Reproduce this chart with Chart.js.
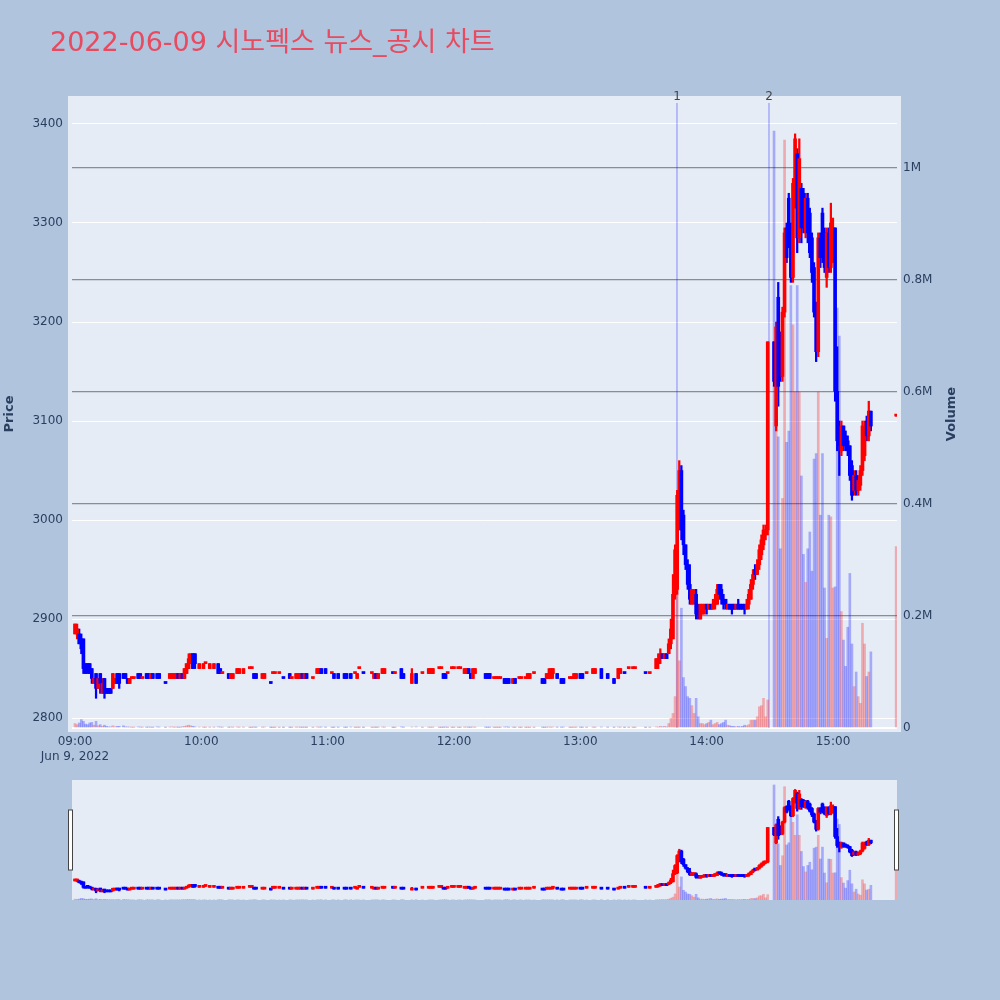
<!DOCTYPE html>
<html>
<head>
<meta charset="utf-8">
<script src="https://cdn.jsdelivr.net/npm/chart.js@4.4.1/dist/chart.umd.min.js"></script>
<style>
  html, body { margin: 0; padding: 0; background: #b0c4de; }
  #wrap { position: relative; width: 1000px; height: 1000px; }
  #main { position: absolute; left: 0; top: 0; }
  #mini { position: absolute; left: 0; top: 770px; }
</style>
</head>
<body>
<div id="wrap">
  <canvas id="main" width="1000" height="1000"></canvas>
  <canvas id="mini" width="1000" height="140"></canvas>
</div>
<script>
// minutes after 09:00 for each traded candle
var mins = [
  0,1,2,3,4,5,6,7,8,9,
  10,11,12,13,14,15,16,17,18,19,
  20,21,23,24,25,26,27,28,30,31,
  32,34,35,36,37,39,40,43,45,46,
  47,48,49,50,51,52,53,54,55,56,
  57,59,61,62,64,66,68,69,70,73,
  74,75,77,78,80,83,84,85,86,89,
  90,93,94,95,97,99,102,103,105,106,
  107,108,109,110,113,115,116,117,119,122,
  123,125,128,129,131,133,134,135,137,141,
  142,143,144,146,147,151,152,155,156,160,
  162,165,168,169,170,173,174,175,176,177,
  179,180,182,183,185,186,187,188,189,190,
  195,196,197,199,200,201,202,204,205,206,
  208,209,211,212,214,215,216,218,222,223,
  224,225,226,227,229,231,232,235,236,237,
  238,240,241,243,246,247,250,253,256,258,
  259,261,263,265,266,271,273,276,277,278,
  279,280,281,282,283,284,285,286,287,288,
  289,290,291,292,293,294,295,296,297,298,
  299,300,301,302,303,304,305,306,307,308,
  309,310,311,312,313,314,315,316,317,318,
  319,320,321,322,323,324,325,326,327,328,
  329,332,333,334,335,336,337,338,339,340,
  341,342,343,344,345,346,347,348,349,350,
  351,352,353,354,355,356,357,358,359,360,
  361,362,363,364,365,366,367,368,369,370,
  371,372,373,374,375,376,377,378,390
];
var opens = [
  2885,2885,2885,2880,2880,2855,2855,2855,2850,2835,
  2845,2830,2845,2825,2840,2830,2830,2830,2830,2835,
  2845,2845,2845,2845,2840,2835,2840,2840,2845,2845,
  2840,2845,2845,2840,2845,2845,2845,2835,2840,2840,
  2840,2840,2845,2840,2845,2840,2845,2850,2855,2865,
  2865,2850,2850,2855,2850,2850,2855,2850,2845,2845,
  2840,2840,2845,2845,2845,2850,2850,2845,2845,2840,
  2840,2835,2845,2845,2845,2840,2845,2840,2840,2840,
  2840,2845,2840,2845,2840,2845,2845,2850,2850,2845,
  2845,2845,2845,2845,2845,2845,2840,2850,2845,2845,
  2840,2845,2840,2845,2845,2845,2845,2850,2845,2835,
  2845,2845,2845,2845,2845,2850,2850,2845,2845,2845,
  2850,2850,2850,2850,2845,2845,2850,2845,2840,2845,
  2845,2845,2845,2840,2840,2840,2840,2840,2840,2840,
  2835,2840,2840,2840,2840,2840,2840,2845,2840,2840,
  2840,2840,2840,2845,2845,2840,2840,2840,2840,2840,
  2840,2845,2845,2845,2845,2845,2850,2845,2840,2840,
  2845,2845,2850,2850,2850,2845,2845,2850,2855,2860,
  2865,2860,2865,2865,2875,2880,2925,2930,3000,3050,
  3005,2975,2955,2935,2915,2920,2925,2910,2900,2905,
  2910,2915,2910,2915,2910,2915,2915,2935,2930,2920,
  2920,2910,2915,2915,2915,2910,2915,2915,2915,2915,
  2910,2915,2920,2935,2950,2945,2955,2965,2975,2985,
  2990,3180,3095,3225,3180,3145,3210,3295,3325,3295,
  3245,3320,3370,3285,3335,3330,3290,3325,3310,3285,
  3255,3215,3170,3285,3310,3290,3245,3290,3255,3265,
  3295,3130,3090,3070,3095,3085,3080,3075,3055,3030,
  3045,3030,3035,3050,3065,3100,3085,3110,3105
];
var highs = [
  2895,2895,2890,2885,2880,2855,2855,2855,2850,2840,
  2845,2840,2845,2840,2840,2830,2830,2830,2845,2840,
  2845,2845,2845,2845,2840,2840,2840,2840,2845,2845,
  2840,2845,2845,2845,2845,2845,2845,2835,2845,2845,
  2845,2845,2845,2845,2845,2850,2855,2865,2865,2865,
  2865,2855,2855,2855,2855,2855,2855,2850,2845,2845,
  2845,2845,2850,2850,2850,2850,2850,2845,2845,2845,
  2845,2835,2845,2845,2845,2840,2845,2840,2845,2845,
  2845,2845,2845,2845,2840,2850,2850,2850,2850,2845,
  2845,2845,2845,2845,2845,2845,2845,2850,2845,2845,
  2845,2845,2845,2850,2850,2845,2845,2850,2845,2850,
  2845,2845,2850,2850,2850,2850,2850,2845,2845,2845,
  2850,2850,2850,2850,2850,2850,2850,2845,2850,2850,
  2845,2845,2845,2840,2840,2840,2840,2840,2840,2840,
  2840,2840,2840,2840,2840,2845,2845,2845,2840,2840,
  2845,2850,2850,2850,2845,2840,2840,2840,2840,2845,
  2845,2845,2845,2845,2850,2850,2850,2845,2840,2850,
  2850,2845,2850,2850,2850,2845,2845,2860,2865,2870,
  2865,2865,2865,2880,2900,2945,2975,3030,3060,3055,
  3010,2975,2960,2955,2930,2930,2930,2915,2915,2915,
  2915,2915,2915,2915,2920,2925,2935,2935,2935,2925,
  2920,2915,2915,2915,2915,2915,2920,2915,2915,2915,
  2920,2930,2940,2950,2955,2960,2975,2985,2995,2995,
  3180,3180,3200,3240,3190,3215,3295,3300,3330,3300,
  3345,3390,3375,3385,3340,3335,3330,3330,3315,3290,
  3260,3220,3290,3290,3315,3295,3295,3295,3320,3305,
  3295,3175,3100,3100,3095,3090,3085,3075,3060,3050,
  3050,3045,3055,3100,3100,3105,3120,3110,3105
];
var lows = [
  2885,2880,2875,2865,2845,2845,2845,2845,2835,2835,
  2820,2830,2825,2825,2820,2825,2825,2825,2830,2835,
  2835,2830,2840,2840,2835,2835,2840,2840,2840,2840,
  2840,2840,2840,2840,2840,2840,2840,2835,2840,2840,
  2840,2840,2840,2840,2840,2840,2845,2850,2855,2850,
  2850,2850,2850,2855,2850,2850,2845,2845,2845,2840,
  2840,2840,2845,2845,2845,2850,2850,2840,2840,2840,
  2840,2835,2845,2845,2845,2840,2840,2840,2840,2840,
  2840,2840,2840,2840,2840,2845,2845,2845,2845,2845,
  2840,2840,2840,2840,2840,2845,2840,2850,2845,2845,
  2840,2840,2840,2845,2845,2845,2845,2840,2840,2835,
  2835,2845,2845,2845,2845,2850,2850,2840,2840,2845,
  2850,2850,2850,2850,2845,2845,2845,2840,2840,2845,
  2840,2840,2840,2840,2840,2840,2840,2835,2835,2835,
  2835,2835,2840,2840,2840,2840,2840,2845,2835,2835,
  2840,2840,2840,2840,2840,2835,2835,2840,2840,2840,
  2840,2840,2840,2845,2845,2845,2840,2840,2835,2840,
  2845,2845,2850,2850,2850,2845,2845,2850,2850,2855,
  2860,2860,2860,2865,2870,2880,2920,2925,2990,2980,
  2965,2950,2930,2915,2915,2915,2900,2900,2900,2905,
  2905,2905,2910,2910,2910,2910,2915,2920,2915,2910,
  2910,2910,2910,2905,2910,2910,2910,2910,2910,2905,
  2910,2910,2920,2930,2940,2945,2950,2960,2970,2980,
  2985,3135,3090,3115,3140,3140,3205,3260,3275,3240,
  3240,3315,3270,3280,3280,3290,3285,3280,3265,3240,
  3205,3160,3165,3255,3260,3250,3235,3250,3250,3260,
  3120,3070,3045,3065,3070,3070,3065,3040,3020,3025,
  3025,3025,3030,3045,3060,3080,3080,3090,3105
];
var closes = [
  2895,2890,2875,2870,2850,2845,2850,2845,2840,2840,
  2830,2840,2835,2835,2825,2825,2825,2825,2845,2840,
  2835,2835,2840,2840,2835,2840,2840,2840,2840,2840,
  2840,2840,2840,2845,2840,2840,2840,2835,2845,2845,
  2845,2845,2840,2845,2840,2850,2855,2860,2865,2850,
  2855,2855,2855,2855,2855,2855,2845,2845,2845,2840,
  2845,2845,2850,2850,2850,2850,2850,2840,2840,2845,
  2845,2835,2845,2845,2845,2840,2840,2840,2845,2845,
  2845,2840,2845,2840,2840,2850,2850,2845,2845,2845,
  2840,2840,2840,2840,2840,2845,2845,2850,2845,2845,
  2845,2840,2845,2850,2850,2845,2845,2840,2840,2845,
  2835,2845,2850,2850,2850,2850,2850,2840,2840,2845,
  2850,2850,2850,2850,2850,2850,2845,2840,2850,2850,
  2840,2840,2840,2840,2840,2840,2840,2835,2835,2835,
  2840,2835,2840,2840,2840,2845,2845,2845,2835,2835,
  2845,2845,2850,2850,2840,2835,2835,2840,2840,2845,
  2845,2840,2840,2845,2850,2850,2840,2840,2835,2850,
  2850,2845,2850,2850,2850,2845,2845,2860,2860,2865,
  2860,2865,2860,2875,2890,2925,2970,3025,3050,2990,
  2975,2955,2935,2920,2930,2925,2905,2905,2915,2915,
  2915,2910,2915,2910,2915,2920,2930,2925,2920,2915,
  2915,2915,2910,2910,2910,2915,2910,2910,2910,2910,
  2915,2925,2935,2945,2945,2955,2970,2980,2990,2990,
  3180,3140,3195,3135,3145,3210,3290,3265,3280,3245,
  3340,3385,3285,3365,3295,3295,3325,3290,3270,3250,
  3210,3170,3285,3265,3270,3255,3290,3255,3300,3295,
  3130,3080,3075,3095,3075,3075,3070,3045,3025,3045,
  3030,3040,3050,3095,3090,3085,3110,3095,3105
];
var volumes = [
  8000,6000,9000,15000,12000,7000,6000,9000,10000,5000,
  12000,4000,6000,3000,5000,3000,2000,2000,4000,2000,
  3000,3000,4000,2000,2000,1500,1000,1000,2000,1500,
  1000,1000,1500,1000,1000,2000,1500,800,1500,2000,
  1000,1500,1000,1000,2000,3000,4000,5000,4000,3000,
  2000,1500,1000,800,1000,1000,2000,1500,1000,1000,
  1500,1000,1500,1000,1000,500,500,1500,1000,1000,
  1500,500,500,500,500,500,800,500,1000,1500,
  800,1000,1000,800,500,1500,1000,1500,1000,500,
  800,1000,1000,800,1500,500,800,500,500,500,
  1000,800,1000,1500,1000,500,500,2000,1000,1500,
  2000,500,1000,800,1000,500,500,1000,1500,500,
  500,500,500,500,1000,1500,1000,1000,1500,1000,
  1000,800,1000,500,500,500,500,1500,2000,1000,
  1000,800,500,500,500,800,500,500,1000,800,
  1000,1500,1000,1500,1000,1000,1500,500,500,1000,
  800,1000,800,500,1000,800,1500,1000,800,1500,
  1000,500,500,500,500,500,500,2000,1500,3000,
  2000,3000,2000,8000,17000,26000,56000,330000,120000,214000,
  90000,74000,56000,53000,40000,26000,53000,20000,8000,8000,
  6000,8000,10000,14000,6000,8000,10000,6000,8000,10000,
  14000,5000,4000,3000,3000,2000,3000,2000,3000,5000,
  4000,6000,14000,14000,14000,20000,38000,40000,53000,20000,
  50000,1066000,550000,520000,320000,410000,1050000,510000,530000,790000,
  720000,600000,790000,600000,450000,310000,260000,320000,350000,280000,
  480000,490000,600000,380000,490000,250000,160000,380000,377000,250000,
  252000,750000,700000,208000,157000,110000,180000,276000,150000,74000,
  100000,56000,44000,187000,150000,92000,100000,136000,324000
];

var xTickVals = [0, 60, 120, 180, 240, 300, 360];
var xTickText = ['09:00', '10:00', '11:00', '12:00', '13:00', '14:00', '15:00'];
var priceTicks = [2800, 2900, 3000, 3100, 3200, 3300, 3400];
var volTicks = [0, 200000, 400000, 600000, 800000, 1000000];
var volTickText = ['0', '0.2M', '0.4M', '0.6M', '0.8M', '1M'];
var newsMinutes = [285.9, 329.6];
var newsLabels = ['1', '2'];

var FONT = '"DejaVu Sans", "Noto Sans CJK KR", sans-serif';
Chart.defaults.font.family = FONT;
Chart.defaults.color = '#2a3f5f';

// red = rising, blue = falling (flat candles compare to previous close)
var isUp = closes.map(function (c, i) {
  return c > opens[i] || (c === opens[i] && (i === 0 || c >= closes[i - 1]));
});
var candleColor = isUp.map(function (u) { return u ? '#ff0000' : '#0000ff'; });
var volColor = isUp.map(function (u) { return u ? 'rgba(255,0,0,0.28)' : 'rgba(0,0,255,0.28)'; });

function makeSets() {
  return [
    {
      data: mins.map(function (m, i) { return {x: m, y: [opens[i], closes[i]]}; }),
      backgroundColor: candleColor, barThickness: 3, minBarLength: 2,
      grouped: false, yAxisID: 'y', order: 1
    },
    {
      data: mins.map(function (m, i) { return {x: m, y: [lows[i], highs[i]]}; }),
      backgroundColor: candleColor, barThickness: 1.6, minBarLength: 1,
      grouped: false, yAxisID: 'y', order: 2
    },
    {
      data: mins.map(function (m, i) { return {x: m, y: volumes[i]}; }),
      backgroundColor: volColor, barThickness: 2,
      grouped: false, yAxisID: 'yv', order: 3
    }
  ];
}

var plotBg = {
  id: 'plotBg',
  beforeDraw: function (chart, args, opts) {
    var a = chart.chartArea, p = opts.pad || 0, ctx = chart.ctx;
    ctx.save();
    ctx.fillStyle = '#e5ecf6';
    ctx.fillRect(a.left - p, a.top - p, a.right - a.left + 2 * p, a.bottom - a.top + 2 * p);
    ctx.restore();
  }
};

var newsLines = {
  id: 'newsLines',
  beforeDatasetsDraw: function (chart) {
    var ctx = chart.ctx, x = chart.scales.x, a = chart.chartArea;
    ctx.save();
    ctx.strokeStyle = 'rgba(0,0,255,0.28)';
    ctx.lineWidth = 1.5;
    newsMinutes.forEach(function (m) {
      var px = x.getPixelForValue(m);
      ctx.beginPath();
      ctx.moveTo(px, a.top + 3);
      ctx.lineTo(px, a.bottom);
      ctx.stroke();
    });
    ctx.restore();
  },
  afterDraw: function (chart) {
    var ctx = chart.ctx, x = chart.scales.x, a = chart.chartArea;
    ctx.save();
    ctx.fillStyle = '#444';
    ctx.font = '12px ' + FONT;
    ctx.textAlign = 'center';
    ctx.textBaseline = 'middle';
    newsMinutes.forEach(function (m, i) {
      ctx.fillText(newsLabels[i], x.getPixelForValue(m), a.top - 3);
    });
    ctx.restore();
  }
};

var texts = {
  id: 'texts',
  afterDraw: function (chart) {
    var ctx = chart.ctx, a = chart.chartArea;
    ctx.save();
    ctx.fillStyle = '#e84a5f';
    ctx.font = '27px ' + FONT;
    ctx.textBaseline = 'alphabetic';
    ctx.fillText('2022-06-09 시노펙스 뉴스_공시 차트', 50, 51);
    ctx.fillStyle = '#2a3f5f';
    ctx.font = 'bold 13px ' + FONT;
    ctx.textAlign = 'center';
    ctx.textBaseline = 'middle';
    var cy = (a.top + a.bottom) / 2;
    [[10, 'Price'], [952, 'Volume']].forEach(function (t) {
      ctx.save();
      ctx.translate(t[0], cy);
      ctx.rotate(-Math.PI / 2);
      ctx.fillText(t[1], 0, 0);
      ctx.restore();
    });
    ctx.restore();
  }
};

function noPad(s) { s.paddingTop = 0; s.paddingBottom = 0; s.paddingLeft = 0; s.paddingRight = 0; }

new Chart(document.getElementById('main'), {
  type: 'bar',
  data: {datasets: makeSets()},
  options: {
    responsive: false,
    animation: false,
    events: [],
    layout: {padding: {left: 0, right: 0, top: 100, bottom: 232}},
    plugins: {legend: {display: false}, tooltip: {enabled: false}, plotBg: {pad: 4}},
    scales: {
      x: {
        type: 'linear', min: -1.42, max: 390.4, offset: false,
        grid: {display: false, drawTicks: false}, border: {display: false},
        afterBuildTicks: function (s) { s.ticks = xTickVals.map(function (v) { return {value: v}; }); },
        afterFit: function (s) { s.height = 40; noPad(s); },
        ticks: {
          autoSkip: false, maxRotation: 0, padding: 7, font: {size: 12},
          callback: function (v) {
            var t = xTickText[xTickVals.indexOf(v)];
            return v === 0 ? [t, 'Jun 9, 2022'] : t;
          }
        }
      },
      y: {
        position: 'left', min: 2790, max: 3424.2,
        grid: {color: '#ffffff', lineWidth: 1, drawTicks: false}, border: {display: false},
        afterBuildTicks: function (s) { s.ticks = priceTicks.map(function (v) { return {value: v}; }); },
        afterFit: function (s) { s.width = 72; noPad(s); },
        ticks: {padding: 9, font: {size: 12}, callback: function (v) { return String(v); }}
      },
      yv: {
        position: 'right', min: 0, max: 1121400,
        grid: {
          drawTicks: false,
          color: function (c) { return c.tick && c.tick.value === 0 ? '#ffffff' : 'rgba(110,110,110,0.75)'; },
          lineWidth: function (c) { return c.tick && c.tick.value === 0 ? 2 : 1.3; }
        },
        border: {display: false},
        afterBuildTicks: function (s) { s.ticks = volTicks.map(function (v) { return {value: v}; }); },
        afterFit: function (s) { s.width = 103; noPad(s); },
        ticks: {
          padding: 6, font: {size: 12},
          callback: function (v) { return volTickText[volTicks.indexOf(v)]; }
        }
      }
    }
  },
  plugins: [plotBg, newsLines, texts]
});

// range slider preview
var handles = {
  id: 'handles',
  afterDraw: function (chart) {
    var ctx = chart.ctx, a = chart.chartArea;
    ctx.save();
    ctx.fillStyle = '#ffffff';
    ctx.strokeStyle = '#444444';
    ctx.lineWidth = 1;
    [a.left - 3, a.right - 2].forEach(function (hx) {
      ctx.fillRect(hx - 0.5, a.top + 30, 4, 60);
      ctx.strokeRect(hx - 0.5, a.top + 30, 4, 60);
    });
    ctx.restore();
  }
};

new Chart(document.getElementById('mini'), {
  type: 'bar',
  data: {datasets: makeSets()},
  options: {
    responsive: false,
    animation: false,
    events: [],
    layout: {padding: {left: 72, right: 103, top: 10, bottom: 10}},
    plugins: {legend: {display: false}, tooltip: {enabled: false}, plotBg: {pad: 0}},
    scales: {
      x: {type: 'linear', min: -1.42, max: 390.4, offset: false, display: false},
      y: {min: 2780, max: 3442, display: false},
      yv: {min: 0, max: 1112000, display: false}
    }
  },
  plugins: [plotBg, handles]
});
</script>
</body>
</html>
